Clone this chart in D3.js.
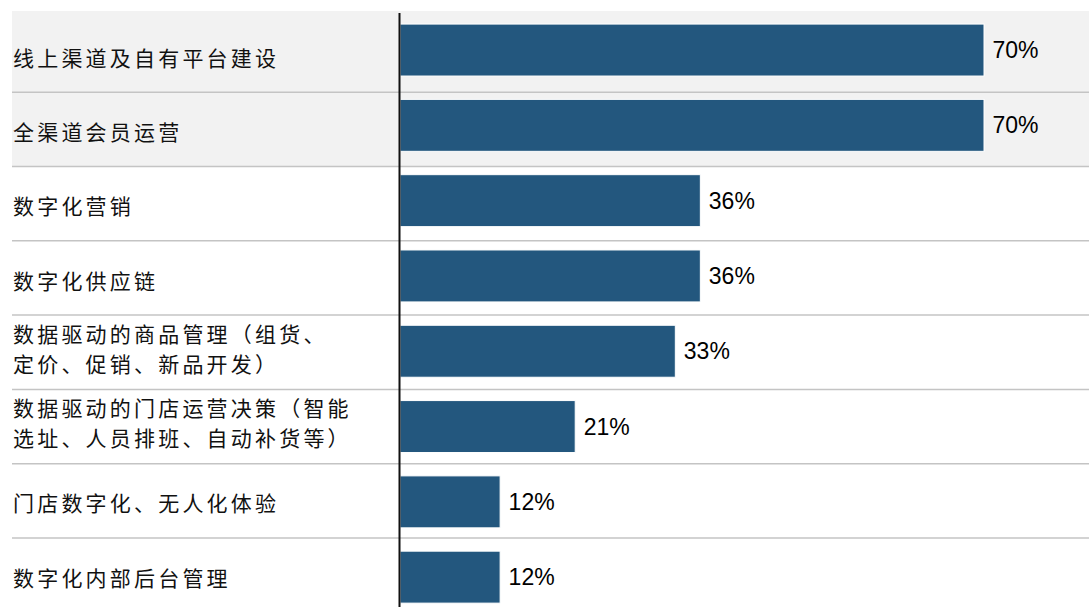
<!DOCTYPE html>
<html>
<head>
<meta charset="utf-8">
<script src="https://cdn.jsdelivr.net/npm/d3@7"></script>
<style>
  html, body { margin: 0; padding: 0; background: #ffffff; }
  svg { display: block; }
</style>
</head>
<body>
<svg id="chart" width="1089" height="607"></svg>
<script>
// ---- data ----
const categories = [
  "线上渠道及自有平台建设",
  "全渠道会员运营",
  "数字化营销",
  "数字化供应链",
  "数据驱动的商品管理（组货、\n定价、促销、新品开发）",
  "数据驱动的门店运营决策（智能\n选址、人员排班、自动补货等）",
  "门店数字化、无人化体验",
  "数字化内部后台管理"
];
const values = [70, 70, 36, 36, 33, 21, 12, 12];
const highlighted = [true, true, false, false, false, false, false, false];

// ---- layout ----
const W = 1089, H = 607;
const svg = d3.select("#chart");

const axisX = 399.5;
const x = d3.scaleLinear().domain([0, 70]).range([400, 984]);

const yBar = d3.scaleBand().domain(categories)
  .range([12.4, 614.8]).paddingInner(0.31).paddingOuter(0.155);
const yRow = d3.scaleBand().domain(categories).range([17.9, 612.3]).padding(0);

// grey background behind highlighted rows
const hiIdx = categories.filter((c, i) => highlighted[i]);
const lastHi = hiIdx[hiIdx.length - 1];
svg.append("rect")
  .attr("x", 12).attr("y", 11)
  .attr("width", W - 12)
  .attr("height", yRow(lastHi) + yRow.bandwidth() - 11)
  .attr("fill", "#f2f2f2");

// separator lines between rows
svg.append("g").selectAll("line")
  .data(categories.slice(1))
  .join("line")
  .attr("x1", 12).attr("x2", W)
  .attr("y1", d => yRow(d)).attr("y2", d => yRow(d))
  .attr("stroke", "#c4c4c4").attr("stroke-width", 1.5);

// bars
svg.append("g").selectAll("rect")
  .data(categories)
  .join("rect")
  .attr("x", x(0))
  .attr("y", d => yBar(d))
  .attr("width", (d, i) => x(values[i]) - x(0))
  .attr("height", yBar.bandwidth())
  .attr("fill", "#23577e")
  .attr("stroke", "#ffffff")
  .attr("stroke-width", 1);

// value labels
svg.append("g").selectAll("text")
  .data(categories)
  .join("text")
  .attr("x", (d, i) => x(values[i]) + 8.5)
  .attr("y", d => yBar(d) + yBar.bandwidth() / 2)
  .attr("dy", "0.35em")
  .attr("font-family", "'Liberation Sans', Arial, sans-serif")
  .attr("font-size", 23)
  .attr("fill", "#000")
  .text((d, i) => values[i] + "%");

// category labels
const lab = svg.append("g").selectAll("text")
  .data(categories)
  .join("text")
  .attr("font-family", "'Noto Sans CJK SC', sans-serif")
  .attr("font-size", 21)
  .attr("letter-spacing", "3.2px")
  .attr("fill", "#111");

lab.each(function (d) {
  const lines = d.split("\n");
  const cy = yRow(d) + yRow.bandwidth() / 2 + 3;
  const lh = 29.5;
  const top = cy - (lines.length - 1) * lh / 2 - (lines.length > 1 ? 6 : 0);
  d3.select(this).selectAll("tspan")
    .data(lines)
    .join("tspan")
    .attr("x", 13)
    .attr("y", (l, j) => top + j * lh)
    .attr("dy", "0.36em")
    .text(l => l);
});

// vertical axis line
svg.append("line")
  .attr("x1", axisX).attr("x2", axisX)
  .attr("y1", 13).attr("y2", H)
  .attr("stroke", "#111").attr("stroke-width", 2);
</script>
</body>
</html>
